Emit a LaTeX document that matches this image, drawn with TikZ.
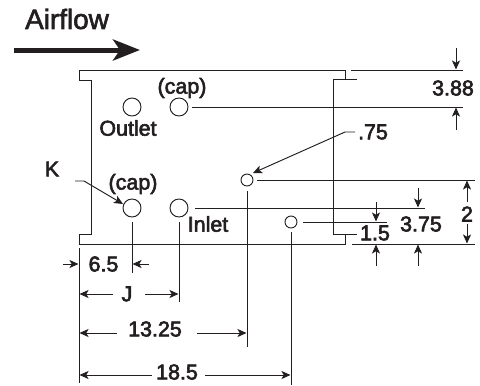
\documentclass[tikz,border=0pt]{standalone}
\usepackage{fontspec}
\setmainfont{Liberation Sans}
\usetikzlibrary{arrows.meta}
\definecolor{ink}{HTML}{231F20}
\newcommand{\hvy}[1]{\special{pdf:code q 2 Tr 0.6 w 0.137 0.122 0.125 RG}#1\special{pdf:code Q}}
\tikzset{
  ln/.style={draw=ink,line width=0.95bp},
  dim/.style={ln,-{Stealth[length=9bp,width=8bp,inset=2.2bp]}},
  hole/.style={circle,draw=ink,line width=0.95bp,fill=white,inner sep=0pt,minimum size=#1},
  lab/.style={text=ink,inner sep=0pt,font=\fontsize{21.5}{21.5}\selectfont}
}
\begin{document}
\begin{tikzpicture}[x=1bp,y=-1bp]
\useasboundingbox (0,0) rectangle (480,385);
% housing
\draw[ln] (345,79) -- (345,70) -- (79,70) -- (79,80) -- (91,80) -- (91,234) -- (79,234) -- (79,244) -- (345,244) -- (345,234);
\draw[ln] (357,79) -- (333,79) -- (333,234) -- (357,234);
% holes
\node[hole=18bp] (oc) at (132,107) {};
\node[hole=18bp] (ocap) at (179,107) {};
\node[hole=18bp] (ic) at (132,208) {};
\node[hole=18bp] (in) at (179,208) {};
\node[hole=12bp] (m1) at (247,180) {};
\node[hole=12bp] (m2) at (291,222) {};
% free ends
\foreach \n/\x/\y in {
 a1/351/70,a2/463/70,a3/192/107,a4/463/107,a5/257/180,a6/475/180,a7/195/208,a8/425/208,
 a9/303/222,a10/387/222,a11/352/244,a12/475/244,
 t1/456/48,t2/456/69.5,t3/456/130,t4/456/107.5,
 u1/467/202,u2/467/180.5,u3/467/224,u4/467/243.5,
 v1/418/188,v2/418/207.5,v3/418/266,v4/418/244.5,
 w1/376/202,w2/376/221.5,w3/376/266,w4/376/244.5,
 l1/355/132,l2/345/132,l3/253/173,
 k1/75/181,k2/84/181,k3/123/204,
 b1/132/222,b2/132/273,c1/179/222,c2/179/302,d1/247/191,d2/247/347,e1/291/232,e2/291/385,f1/79/248,f2/79/383,
 g1/63/264,g2/78.5/264,g3/149/264,g4/132.5/264,
 h1/113/294,h2/79.5/294,h3/145/294,h4/178.5/294,
 i1/117/333,i2/79.5/333,i3/197/333,i4/246.5/333,
 j1/152/375,j2/79.5/375,j3/205/375,j4/290.5/375,
 air1/14/50,air2/140/50}
 {\coordinate (\n) at (\x,\y);}
% extension lines
\draw[ln] (a1) -- (a2);
\draw[ln] (a3) -- (a4);
\draw[ln] (a5) -- (a6);
\draw[ln] (a7) -- (a8);
\draw[ln] (a9) -- (a10);
\draw[ln] (a11) -- (a12);
\draw[ln] (b1) -- (b2);
\draw[ln] (c1) -- (c2);
\draw[ln] (d1) -- (d2);
\draw[ln] (e1) -- (e2);
\draw[ln] (f1) -- (f2);
% dimension arrows
\foreach \s/\e in {t1/t2,t3/t4,u1/u2,u3/u4,v1/v2,v3/v4,w1/w2,w3/w4,g1/g2,g3/g4,h1/h2,h3/h4,i1/i2,i3/i4,j1/j2,j3/j4}
 \draw[dim] (\s) -- (\e);
\draw[dim] (l1) -- (l2) -- (l3);
\draw[dim] (k1) -- (k2) -- (k3);
% airflow arrow
\draw[draw=ink,line width=5bp,-{Stealth[length=27bp,width=21bp,inset=7bp]}] (air1) -- (air2);
% labels
\node[lab,font=\fontsize{28}{28}\selectfont] (tair) at (67,19) {\hvy{Airflow}};
\node[lab] (t388) at (453,88) {\hvy{3.88}};
\node[lab] (t75) at (373,132) {\hvy{.75}};
\node[lab] (t2) at (467,214) {\hvy{2}};
\node[lab] (t375) at (421,224) {\hvy{3.75}};
\node[lab] (t15) at (375,233) {\hvy{1.5}};
\node[lab] (tcap1) at (182,88) {\hvy{(cap)}};
\node[lab] (toutlet) at (128,128) {\hvy{Outlet}};
\node[lab] (tk) at (52,169) {\hvy{K}};
\node[lab] (tcap2) at (133,184) {\hvy{(cap)}};
\node[lab] (tinlet) at (208,224) {\hvy{Inlet}};
\node[lab] (t65) at (103.5,264) {\hvy{6.5}};
\node[lab] (tj) at (127,294) {\hvy{J}};
\node[lab] (t1325) at (155,329) {\hvy{13.25}};
\node[lab] (t185) at (177,372) {\hvy{18.5}};
\end{tikzpicture}
\end{document}
